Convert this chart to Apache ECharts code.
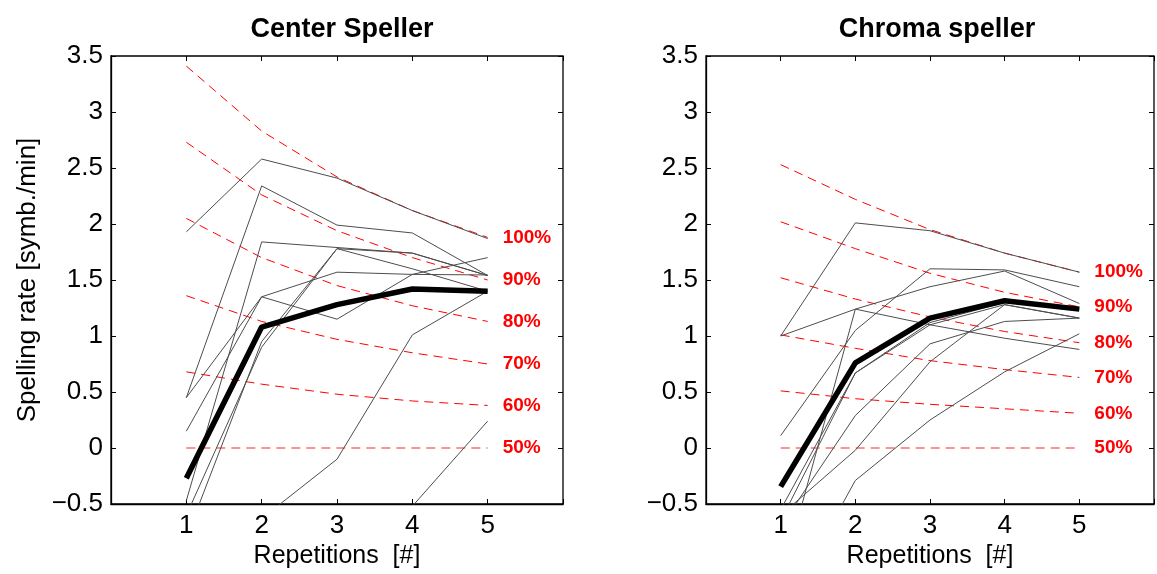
<!DOCTYPE html>
<html>
<head>
<meta charset="utf-8">
<script src="https://cdn.jsdelivr.net/npm/echarts@6/dist/echarts.min.js"></script>
<style>
html,body{margin:0;padding:0;background:#fff;}
#chart{width:1157px;height:574px;}
</style>
</head>
<body>
<div id="chart"></div>
<script>
// ---- data ----
const repetitions = [1, 2, 3, 4, 5];
const xTickLabels = ['1', '2', '3', '4', '5'];
const panelTitles = ['Center Speller', 'Chroma speller'];
const accuracyLabels = ['100%', '90%', '80%', '70%', '60%', '50%'];

// theoretical rate curves (dashed red), left panel
const centerAcc100 = [3.41, 2.83, 2.42, 2.12, 1.88];
const centerAcc90  = [2.73, 2.26, 1.94, 1.70, 1.50];
const centerAcc80  = [2.05, 1.70, 1.45, 1.27, 1.13];
const centerAcc70  = [1.36, 1.13, 0.97, 0.85, 0.75];
const centerAcc60  = [0.68, 0.57, 0.48, 0.42, 0.38];
const centerAcc50  = [0, 0, 0, 0, 0];

// subjects, left panel
const centerS1 = [1.93, 2.58, 2.41, 2.12, 1.87];
const centerS2 = [0.45, 2.34, 1.99, 1.92, 1.54];
const centerS3 = [-0.47, 1.84, 1.79, 1.74, 1.54];
const centerS4 = [0.45, 1.35, 1.57, 1.55, 1.545];
const centerS5 = [0.15, 1.35, 1.15, 1.55, 1.70];
const centerS6 = [-0.60, 0.90, 1.78, 1.60, 1.40];
const centerS7 = [-0.80, 0.95, 1.78, 1.74, 1.54];
const centerS8 = [-1.50, -0.63, -0.10, 1.01, 1.40];
const centerS9 = [-2.50, -1.20, -1.20, -0.52, 0.24];
const centerMean = [-0.27, 1.08, 1.28, 1.42, 1.40];

// theoretical rate curves, right panel
const chromaAcc100 = [2.53, 2.22, 1.95, 1.74, 1.57];
const chromaAcc90  = [2.02, 1.78, 1.56, 1.39, 1.26];
const chromaAcc80  = [1.52, 1.33, 1.17, 1.04, 0.94];
const chromaAcc70  = [1.01, 0.89, 0.78, 0.70, 0.63];
const chromaAcc60  = [0.51, 0.44, 0.39, 0.35, 0.31];
const chromaAcc50  = [0, 0, 0, 0, 0];

// subjects, right panel
const chromaS1 = [1.00, 2.01, 1.94, 1.74, 1.57];
const chromaS2 = [1.00, 1.24, 1.44, 1.58, 1.29];
const chromaS3 = [-1.20, 1.24, 1.10, 0.98, 0.88];
const chromaS4 = [0.11, 1.05, 1.60, 1.59, 1.44];
const chromaS5 = [-0.55, 0.67, 1.10, 1.28, 1.16];
const chromaS6 = [-0.70, 0.29, 0.93, 1.13, 1.16];
const chromaS7 = [-0.60, -0.02, 0.77, 1.28, 1.16];
const chromaS8 = [-1.50, -0.29, 0.25, 0.68, 1.02];
const chromaS9 = [-0.65, 0.67, 1.12, 1.30, 1.24];
const chromaMean = [-0.345, 0.76, 1.16, 1.315, 1.24];

const panels = [
  { acc: [centerAcc100, centerAcc90, centerAcc80, centerAcc70, centerAcc60, centerAcc50],
    subjects: [centerS1, centerS2, centerS3, centerS4, centerS5, centerS6, centerS7, centerS8, centerS9],
    mean: centerMean },
  { acc: [chromaAcc100, chromaAcc90, chromaAcc80, chromaAcc70, chromaAcc60, chromaAcc50],
    subjects: [chromaS1, chromaS2, chromaS3, chromaS4, chromaS5, chromaS6, chromaS7, chromaS8, chromaS9],
    mean: chromaMean }
];

// ---- chart ----
const FONT = 'Liberation Sans, Arial, Helvetica, sans-serif';
const pts = arr => repetitions.map((r, i) => [r, arr[i]]);
const yFmt = v => (v < 0 ? '\u2212' + Math.abs(v) : String(v));

const grids = [
  { left: 111, right: 594, top: 56, bottom: 70 },
  { left: 706, right: -2, top: 56, bottom: 70 }
];

const xAxes = [], yAxes = [], series = [];
grids.forEach((g, p) => {
  g.show = true; g.borderColor = '#000'; g.borderWidth = 1.3; g.backgroundColor = '#fff';
  xAxes.push({
    type: 'value', gridIndex: p, min: 0, max: 6, interval: 1, position: 'bottom',
    name: 'Repetitions  [#]', nameLocation: 'middle', nameGap: 35,
    nameTextStyle: { fontFamily: FONT, fontSize: 25, color: '#000' },
    axisLine: { show: true, onZero: false, lineStyle: { color: '#000', width: 1.3 } },
    axisTick: { show: true, inside: true, length: 5, lineStyle: { color: '#000' } },
    axisLabel: {
      fontFamily: FONT, fontSize: 26, color: '#000', margin: 9,
      formatter: v => { const i = repetitions.indexOf(v); return i >= 0 ? xTickLabels[i] : ''; }
    },
    splitLine: { show: false }
  });
  xAxes.push({
    type: 'value', gridIndex: p, min: 0, max: 6, interval: 1, position: 'top',
    axisLine: { show: false, onZero: false },
    axisTick: { show: true, inside: true, length: 5, lineStyle: { color: '#000' } },
    axisLabel: { show: false }, splitLine: { show: false }
  });
  yAxes.push({
    type: 'value', gridIndex: p, min: -0.5, max: 3.5, interval: 0.5, position: 'left',
    name: p === 0 ? 'Spelling rate [symb./min]' : '', nameLocation: 'middle', nameGap: 70,
    nameTextStyle: { fontFamily: FONT, fontSize: 26, color: '#000' },
    axisLine: { show: true, onZero: false, lineStyle: { color: '#000', width: 1.3 } },
    axisTick: { show: true, inside: true, length: 5, lineStyle: { color: '#000' } },
    axisLabel: { fontFamily: FONT, fontSize: 26, color: '#000', margin: 8, formatter: yFmt },
    splitLine: { show: false }
  });
  yAxes.push({
    type: 'value', gridIndex: p, min: -0.5, max: 3.5, interval: 0.5, position: 'right',
    axisLine: { show: false, onZero: false },
    axisTick: { show: true, inside: true, length: 5, lineStyle: { color: '#000' } },
    axisLabel: { show: false }, splitLine: { show: false }
  });

  const panel = panels[p];
  panel.acc.forEach((arr, k) => {
    series.push({
      type: 'line', xAxisIndex: p * 2, yAxisIndex: p * 2, data: pts(arr),
      symbol: 'none', silent: true, z: 2,
      lineStyle: { color: k === 5 ? '#ff6f6f' : '#ff0000', width: k === 5 ? 1.5 : 1, type: [9, 6] },
      endLabel: {
        show: true, formatter: accuracyLabels[k], distance: 15,
        color: '#ff0000', fontFamily: FONT, fontWeight: 'bold', fontSize: 19
      }
    });
  });
  panel.subjects.forEach(arr => {
    series.push({
      type: 'line', xAxisIndex: p * 2, yAxisIndex: p * 2, data: pts(arr),
      symbol: 'none', silent: true, z: 3, clip: true,
      lineStyle: { color: '#4d4d4d', width: 1 }
    });
  });
  series.push({
    type: 'line', xAxisIndex: p * 2, yAxisIndex: p * 2, data: pts(panel.mean),
    symbol: 'none', silent: true, z: 4, clip: true,
    lineStyle: { color: '#000', width: 5.5 }
  });
});

const chart = echarts.init(document.getElementById('chart'), null, { renderer: 'canvas' });
chart.setOption({
  animation: false,
  backgroundColor: '#fff',
  title: [
    { text: panelTitles[0], left: 337, top: 11, textAlign: 'center',
      textStyle: { fontFamily: FONT, fontSize: 27, fontWeight: 'bold', color: '#000' } },
    { text: panelTitles[1], left: 932, top: 11, textAlign: 'center',
      textStyle: { fontFamily: FONT, fontSize: 27, fontWeight: 'bold', color: '#000' } }
  ],
  grid: grids,
  xAxis: xAxes,
  yAxis: yAxes,
  series: series
});
</script>
</body>
</html>
